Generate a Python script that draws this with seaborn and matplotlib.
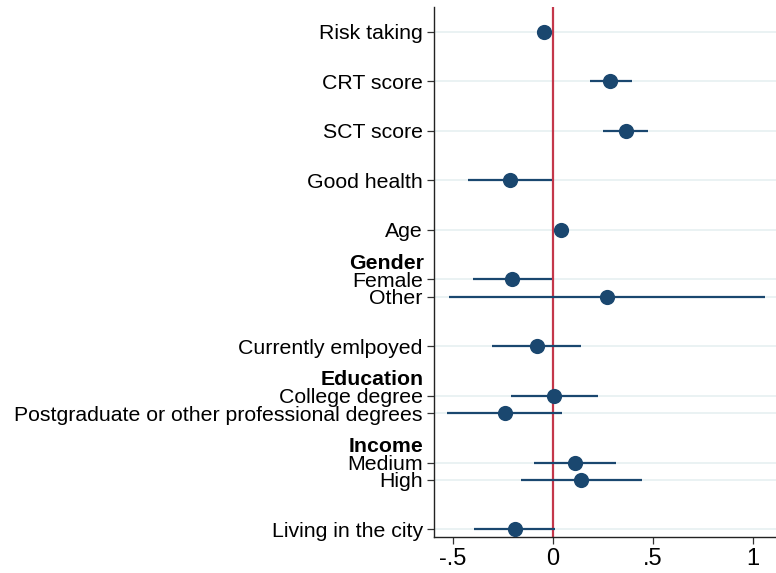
import matplotlib
matplotlib.use('Agg')
import numpy as np
import pandas as pd
from matplotlib import pyplot as plt
import matplotlib.transforms as mtransforms
import seaborn as sns

# Coefficient estimates and 95% CIs
labels = ['Risk taking', 'CRT score', 'SCT score', 'Good health', 'Age',
          'Female', 'Other', 'Currently emlpoyed', 'College degree',
          'Postgraduate or other professional degrees', 'Medium', 'High',
          'Living in the city']
groups = [None, None, None, None, None, 'Gender', 'Gender', None,
          'Education', 'Education', 'Income', 'Income', None]
coef = [-0.045, 0.288, 0.363, -0.212, 0.040, -0.202, 0.273, -0.078,
        0.007, -0.237, 0.113, 0.143, -0.190]
ci_low = [-0.080, 0.188, 0.252, -0.423, 0.035, -0.398, -0.518, -0.302,
          -0.210, -0.527, -0.093, -0.160, -0.393]
ci_high = [-0.007, 0.393, 0.473, -0.002, 0.045, -0.003, 1.060, 0.143,
           0.225, 0.048, 0.318, 0.443, 0.013]
xticks = [-0.5, 0, 0.5, 1]
xticklabels = ['-.5', '0', '.5', '1']

# row positions: full step between variables, small step inside a group
pos = []
y = 0.0
for i, g in enumerate(groups):
    if i > 0:
        y += 0.35 if (g is not None and g == groups[i - 1]) else 1.0
    pos.append(y)

df = pd.DataFrame({'label': labels, 'group': groups, 'coef': coef,
                   'lo': ci_low, 'hi': ci_high, 'pos': pos})

sns.set_style('white')
plt.rcParams['font.family'] = ['Liberation Sans', 'DejaVu Sans']
plt.rcParams['text.color'] = 'black'
plt.rcParams['xtick.color'] = 'black'
plt.rcParams['ytick.color'] = 'black'

navy = '#1a476f'
fig = plt.figure(figsize=(7.76, 5.73), dpi=100)
ax = fig.add_axes([0.559, 0.063, 0.441, 0.925])

for p in df['pos']:
    ax.axhline(p, color='#eaf2f3', lw=1.4, zorder=0)

ax.axvline(0, color='#c4374a', lw=1.6, zorder=1)
ax.hlines(df['pos'], df['lo'], df['hi'], color=navy, lw=1.6, zorder=2)
sns.scatterplot(data=df, x='coef', y='pos', ax=ax, color=navy, s=120,
                edgecolor=navy, linewidth=0, zorder=3, legend=False)

ax.set_xlim(-0.595, 1.115)
ax.set_ylim(10.2, -0.505)
ax.set_xticks(xticks)
ax.set_xticklabels(xticklabels, fontsize=17)
ax.set_yticks(df['pos'])
ax.set_yticklabels(df['label'], fontsize=15.3)
ax.set_xlabel('')
ax.set_ylabel('')
ax.tick_params(axis='both', which='both', direction='out', length=5,
               width=0.9, color='#333333', pad=3, left=True, bottom=True)

for side in ['top', 'right']:
    ax.spines[side].set_visible(False)
for side in ['left', 'bottom']:
    ax.spines[side].set_color('#222222')
    ax.spines[side].set_linewidth(1.0)

# bold group headers above their first row
trans = mtransforms.blended_transform_factory(ax.transAxes, ax.transData)
first = df.dropna(subset=['group']).groupby('group', sort=False)['pos'].min()
for name, p in first.items():
    ax.text(-0.0295, p - 0.32, name, transform=trans, ha='right',
            va='center', fontsize=15.3, fontweight='bold')

fig.savefig('out.png', dpi=100)
